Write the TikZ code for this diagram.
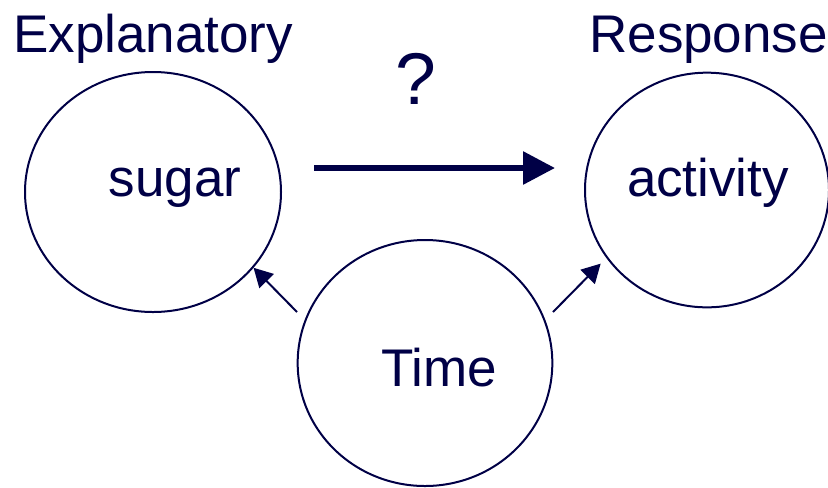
\documentclass[tikz,border=0pt]{standalone}
\usepackage{fontspec}
\setmainfont{Liberation Sans}
\usetikzlibrary{arrows.meta, shapes.geometric}
\definecolor{tinta}{RGB}{0,0,70}

\begin{document}
\begin{tikzpicture}[x=0.75pt, y=-0.75pt,
    var/.style={ellipse, draw=tinta, line width=1.5pt, inner sep=0pt},
    rotulo/.style={font=\fontsize{39.75}{44}\selectfont, text=tinta, inner sep=0pt},
    seta/.style={draw=tinta, line width=1.5pt, -{Triangle[length=14pt, width=15pt]}},
    setaforte/.style={draw=tinta, line width=4.5pt, -{Triangle[length=24pt, width=24pt]}}]
    \useasboundingbox (0,0) rectangle (828,487);
    % Variables
    \node[var, minimum width=192pt, minimum height=180pt] (sugar) at (153,192) {};
    \node[var, minimum width=183pt, minimum height=176pt] (activity) at (707,190) {};
    \node[var, minimum width=191pt, minimum height=184.5pt] (time) at (425,363) {};
    % Texts
    \node[rotulo, anchor=base west] (lblexp) at (13,52) {Explanatory};
    \node[rotulo, anchor=base west] (lblresp) at (589,52) {Response};
    \node[rotulo, anchor=base, font=\fontsize{55}{60}\selectfont] (lblq) at (416,104) {?};
    \node[rotulo, anchor=base] (txtsugar) at (175,196) {sugar};
    \node[rotulo, anchor=base] (txtact) at (708,196) {activity};
    \node[rotulo, anchor=base] (txttime) at (439,386) {Time};
    % Arrows
    \coordinate (a1) at (314,168);
    \coordinate (a2) at (555,168);
    \draw[setaforte] (a1) -- (a2);
    \coordinate (t1) at (297,312);
    \coordinate (t2) at (553,312);
    \draw[seta] (t1) -- (sugar.-37);
    \draw[seta, shorten >=6pt] (t2) -- (activity.214);
\end{tikzpicture}
\end{document}
